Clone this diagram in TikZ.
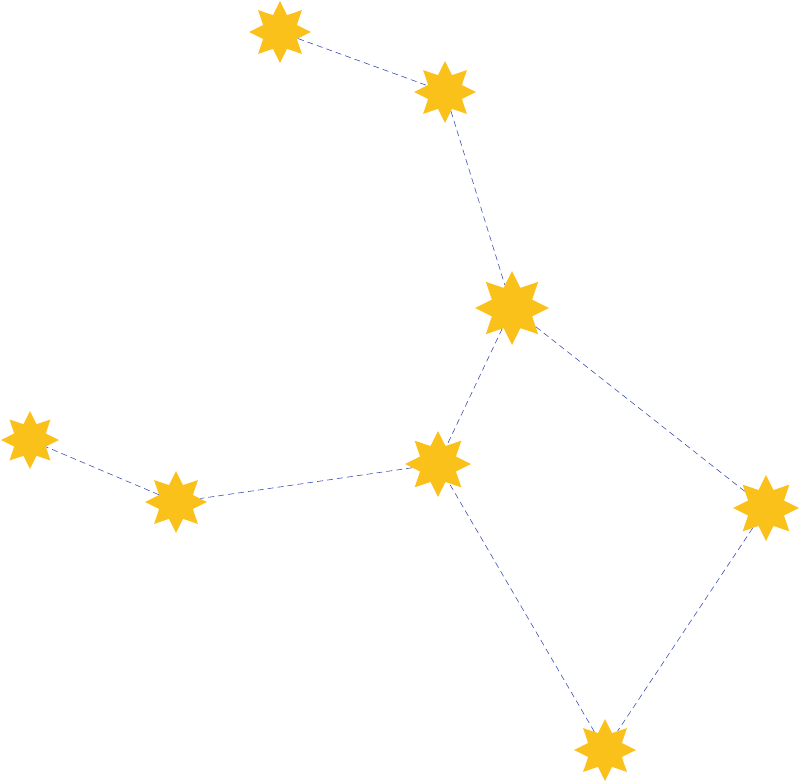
\documentclass[tikz,border=0pt]{standalone}
\usetikzlibrary{shapes.geometric}
\definecolor{staryellow}{HTML}{FBC11B}
\definecolor{lineblue}{HTML}{3F51B5}
\begin{document}
\begin{tikzpicture}[x=1pt, y=-1pt]
    \tikzset{starnode/.style={star, star points=8, star point ratio=1.7, fill=staryellow, inner sep=0pt, minimum size=62pt},
             link/.style={draw=lineblue, dashed, semithick, dash pattern=on 6pt off 4pt}}
    \useasboundingbox (0,0) rectangle (800,782);

    \node[starnode] (alkaid) at (280,32) {};
    \node[starnode] (mizar) at (445,92) {};
    \node[starnode, minimum size=74pt] (alioth) at (512,308) {};
    \node[starnode, minimum size=66pt] (megrez) at (438,464) {};
    \node[starnode] (talitha) at (176,502) {};
    \node[starnode, minimum size=58pt] (tania) at (30,440) {};
    \node[starnode, minimum size=66pt] (phecda) at (766,508) {};
    \node[starnode] (merak) at (605,750) {};

    \begin{scope}[on background layer/.style={}]
    \draw[link] (alkaid) -- (mizar);
    \draw[link] (mizar) -- (alioth);
    \draw[link] (alioth) -- (megrez);
    \draw[link] (megrez) -- (talitha);
    \draw[link] (talitha) -- (tania);
    \draw[link] (alioth) -- (phecda);
    \draw[link] (phecda) -- (merak);
    \draw[link] (merak) -- (megrez);
    \end{scope}
\end{tikzpicture}
\end{document}
